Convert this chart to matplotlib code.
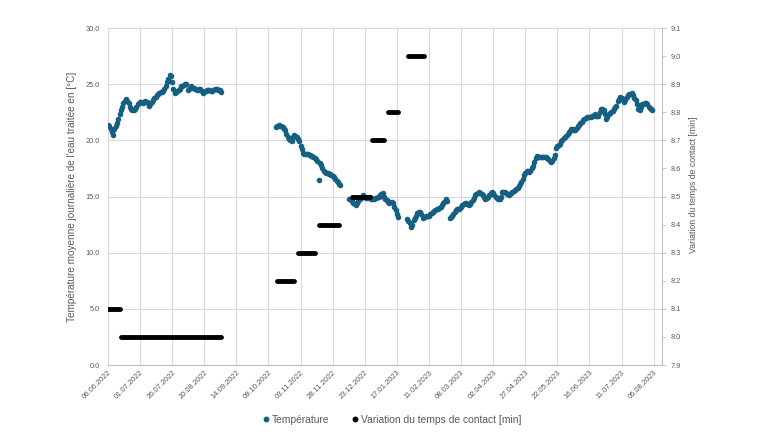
import matplotlib
matplotlib.use("Agg")
import matplotlib.pyplot as plt
from matplotlib.lines import Line2D
import pandas as pd

plt.rcParams['font.family'] = ['Liberation Sans', 'DejaVu Sans']

# ---------------- data ----------------
# daily mean temperature, one value per day, five uninterrupted periods
temp_debut = ["06.06.2022", "15.10.2022", "11.12.2022", "25.01.2023", "27.02.2023"]
temp_s1 = [21.4, 21.3, 21.0, 20.7, 20.5, 21.0, 21.3, 21.5, 21.9, 22.3,
           22.7, 23.0, 23.3, 23.5, 23.7, 23.5, 23.3, 23.0, 22.8, 22.7,
           22.7, 22.8, 23.0, 23.2, 23.3, 23.4, 23.4, 23.3, 23.4, 23.5,
           23.4, 23.3, 23.1, 23.2, 23.4, 23.6, 23.8, 23.9, 24.0, 24.1,
           24.2, 24.3, 24.3, 24.4, 24.6, 24.8, 25.2, 25.5, 25.8, 25.7,
           25.2, 24.6, 24.2, 24.3, 24.4, 24.5, 24.6, 24.8, 24.8, 24.9,
           25.0, 25.0, 24.5, 24.6, 24.7, 24.8, 24.7, 24.7, 24.6, 24.5,
           24.5, 24.6, 24.6, 24.4, 24.2, 24.3, 24.4, 24.5, 24.5, 24.5,
           24.4, 24.4, 24.5, 24.6, 24.6, 24.6, 24.5, 24.5, 24.3]
temp_s2 = [21.2, 21.3, 21.4, 21.3, 21.3, 21.2, 21.0, 20.9, 20.6, 20.3,
           20.1, 20.0, 19.9, 20.3, 20.5, 20.4, 20.3, 20.1, 19.9, 19.5,
           19.2, 18.9, 18.8, 18.8, 18.8, 18.8, 18.7, 18.6, 18.6, 18.5,
           18.4, 18.3, 18.2, 16.5, 18.0, 17.8, 17.5, 17.3, 17.2, 17.1,
           17.1, 17.0, 17.0, 16.9, 16.8, 16.7, 16.6, 16.4, 16.3, 16.1, 16.0]
temp_s3 = [14.8, 14.7, 14.6, 14.4, 14.3, 14.2, 14.4, 14.6, 14.8, 14.9,
           15.0, 15.1, 15.0, 14.9, 14.9, 14.9, 15.0, 14.8, 14.8, 14.8,
           14.9, 14.9, 15.0, 15.0, 15.1, 15.2, 15.3, 15.0, 14.8, 14.7,
           14.5, 14.4, 14.5, 14.5, 14.4, 14.1, 13.8, 13.4, 13.2]
temp_s4 = [13.0, 12.8, 12.6, 12.3, 12.5, 12.9, 13.1, 13.3, 13.5, 13.6,
           13.6, 13.4, 13.1, 13.2, 13.2, 13.3, 13.3, 13.3, 13.4, 13.5,
           13.6, 13.7, 13.8, 13.9, 13.9, 14.0, 14.1, 14.2, 14.4, 14.5,
           14.8, 14.6]
temp_s5 = [13.1, 13.2, 13.3, 13.4, 13.6, 13.8, 13.9, 13.9, 14.0, 14.1,
           14.2, 14.3, 14.4, 14.4, 14.3, 14.2, 14.3, 14.5, 14.7, 14.9,
           15.1, 15.2, 15.3, 15.4, 15.3, 15.2, 15.1, 15.0, 14.8, 14.9,
           15.0, 15.1, 15.3, 15.4, 15.3, 15.1, 15.0, 14.9, 14.8, 14.8,
           15.0, 15.4, 15.4, 15.4, 15.3, 15.2, 15.1, 15.2, 15.3, 15.4,
           15.5, 15.6, 15.7, 15.8, 15.9, 16.1, 16.3, 16.6, 16.9, 17.1,
           17.3, 17.3, 17.2, 17.3, 17.5, 17.7, 18.1, 18.4, 18.6, 18.5,
           18.5, 18.5, 18.5, 18.5, 18.5, 18.5, 18.4, 18.3, 18.2, 18.1,
           18.2, 18.4, 18.7, 19.3, 19.5, 19.6, 19.7, 19.9, 20.0, 20.2,
           20.3, 20.4, 20.6, 20.7, 20.8, 21.0, 21.0, 20.9, 20.9, 21.1,
           21.3, 21.4, 21.5, 21.6, 21.8, 21.9, 22.0, 22.1, 22.1, 22.1,
           22.1, 22.2, 22.2, 22.3, 22.2, 22.2, 22.2, 22.5, 22.8, 22.8,
           22.7, 22.3, 21.9, 22.1, 22.3, 22.4, 22.5, 22.6, 22.8, 23.0,
           23.1, 23.5, 23.7, 23.9, 23.8, 23.6, 23.4, 23.6, 23.9, 24.0,
           24.1, 24.1, 24.2, 24.0, 23.8, 23.6, 23.2, 22.8, 22.7, 23.0,
           23.2, 23.2, 23.3, 23.3, 23.2, 23.0, 22.9, 22.8, 22.7]
temp_segments = [temp_s1, temp_s2, temp_s3, temp_s4, temp_s5]

# contact time: runs of identical daily values (first day, last day, value)
contact_debut = ["06.06.2022", "16.06.2022", "16.10.2022", "01.11.2022", "17.11.2022",
                 "13.12.2022", "29.12.2022", "10.01.2023", "26.01.2023"]
contact_fin = ["15.06.2022", "02.09.2022", "29.10.2022", "14.11.2022", "03.12.2022",
               "27.12.2022", "07.01.2023", "18.01.2023", "07.02.2023"]
contact_valeurs = [8.1, 8.0, 8.2, 8.3, 8.4, 8.5, 8.7, 8.8, 9.0]

x_tick_labels = ["06.06.2022", "01.07.2022", "26.07.2022", "20.08.2022", "14.09.2022",
                 "09.10.2022", "03.11.2022", "28.11.2022", "23.12.2022", "17.01.2023",
                 "11.02.2023", "08.03.2023", "02.04.2023", "27.04.2023", "22.05.2023",
                 "16.06.2023", "11.07.2023", "05.08.2023"]
y1_ticks = [0.0, 5.0, 10.0, 15.0, 20.0, 25.0, 30.0]
y2_ticks = [7.9, 8.0, 8.1, 8.2, 8.3, 8.4, 8.5, 8.6, 8.7, 8.8, 8.9, 9.0, 9.1]

label_y1 = "Température moyenne journalière de l'eau traitée en [°C]"
label_y2 = "Variation du temps de contact [min]"
legende = ["Température", "Variation du temps de contact [min]"]

# ---------------- styles ----------------
BLEU = '#156082'
GRIS_TXT = '#595959'
GRIS_GRID = '#D9D9D9'
GRIS_AXE = '#BFBFBF'
FMT = "%d.%m.%Y"

fig = plt.figure(figsize=(7.6, 4.4), dpi=100)
W, H = 760, 440
ax = fig.add_axes([108 / W, 1 - 365 / H, (662 - 108) / W, (365 - 28) / H])
ax2 = ax.twinx()

tx, ty = [], []
for d0, vals in zip(temp_debut, temp_segments):
    r = pd.date_range(pd.to_datetime(d0, format=FMT), periods=len(vals), freq='D')
    tx.extend(r)
    ty.extend(vals)
ax.scatter(tx, ty, s=16, color=BLEU, linewidths=0, zorder=3)

# each run of daily contact-time points drawn as overlapping round dots (round-capped stroke)
for d0, d1, v in zip(contact_debut, contact_fin, contact_valeurs):
    r = pd.date_range(pd.to_datetime(d0, format=FMT), pd.to_datetime(d1, format=FMT), freq='D')
    ax2.plot(r, [v] * len(r), color='black', linewidth=3.5, solid_capstyle='round', zorder=3)

tick_pos = pd.to_datetime(x_tick_labels, format=FMT)
ax.set_xlim(tick_pos[0], pd.to_datetime("11.08.2023", format=FMT) + pd.Timedelta(hours=12))
ax.set_xticks(tick_pos)
ax.set_xticklabels(x_tick_labels, rotation=45, ha='right', va='top', rotation_mode='anchor')

ax.set_ylim(0, 30)
ax.set_yticks(y1_ticks)
ax.set_yticklabels([f"{v:.1f}" for v in y1_ticks])
ax2.set_ylim(7.9, 9.1)
ax2.set_yticks(y2_ticks)
ax2.set_yticklabels([f"{v:.1f}" for v in y2_ticks])

ax.grid(True, color=GRIS_GRID, linewidth=0.8)
ax.set_axisbelow(True)

ax.tick_params(axis='x', length=0, pad=3, labelsize=5.4, labelcolor=GRIS_TXT)
ax.tick_params(axis='y', length=0, pad=6, labelsize=5.3, labelcolor=GRIS_TXT)
ax2.tick_params(axis='y', length=3, width=0.6, color=GRIS_AXE, pad=3, labelsize=5.3,
                labelcolor=GRIS_TXT)

for s in ['top', 'left', 'right']:
    ax.spines[s].set_visible(False)
ax.spines['bottom'].set_color(GRIS_AXE)
ax.spines['bottom'].set_linewidth(0.8)
for s in ['top', 'left', 'bottom']:
    ax2.spines[s].set_visible(False)
ax2.spines['right'].set_color(GRIS_AXE)
ax2.spines['right'].set_linewidth(0.8)

ax.set_ylabel(label_y1, fontsize=7.2, color=GRIS_TXT)
ax.yaxis.set_label_coords(-0.056, 0.5)
ax2.set_ylabel(label_y2, fontsize=6.3, color=GRIS_TXT)
ax2.yaxis.set_label_coords(1.049, 0.534)

handles = [Line2D([], [], linestyle='none', marker='o', markersize=3.2, color=BLEU),
           Line2D([], [], linestyle='none', marker='o', markersize=3.2, color='black')]
fig.legend(handles, legende, loc='center', bbox_to_anchor=(391 / W, 1 - 420 / H), ncol=2,
           frameon=False, fontsize=7.4, labelcolor=GRIS_TXT, handletextpad=0.1,
           columnspacing=2.0, handlelength=1.0)

fig.savefig("out.png", dpi=100)
